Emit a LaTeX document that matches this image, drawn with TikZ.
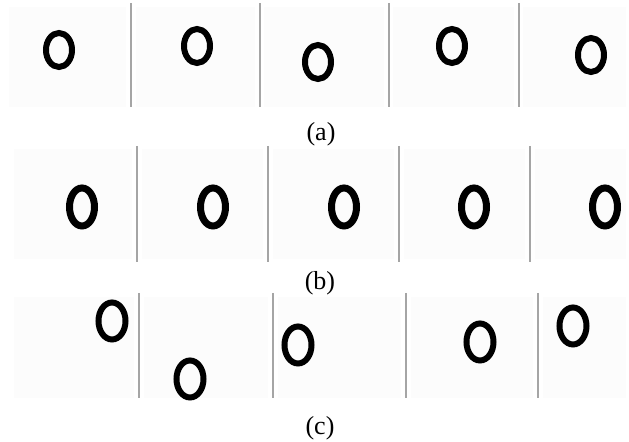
\documentclass[tikz,border=0pt]{standalone}
\usepackage{fontspec}
\setmainfont{Liberation Serif}
\usepackage{tikz}
\definecolor{framegray}{RGB}{165,165,165}
\definecolor{photobg}{RGB}{252,252,252}

\tikzset{
  ring/.style={draw=black, line width=3pt},
  thickring/.style={draw=black, line width=3.5pt},
  divider/.style={draw=framegray, line width=0.6pt},
  photo/.style={fill=photobg},
  caption/.style={anchor=base, font=\fontsize{13}{15}\selectfont}
}

\begin{document}
\begin{tikzpicture}[x=0.5pt, y=-0.5pt]
  \useasboundingbox (0,0) rectangle (629,442);

  % row (a)
  \foreach \xa/\xb in {9/126, 136/255, 264/384, 393/514, 523/626}
    \fill[photo] (\xa,7) rectangle (\xb,107);
  \foreach \x in {131,260,389,519}
    \draw[divider] (\x,3) -- (\x,107);
  \foreach \x/\y in {59/50, 197/46, 318/62, 452/46, 591/55}
    \draw[ring] (\x,\y) ellipse [x radius=6.5pt, y radius=8.5pt];
  \node[caption] (capA) at (321,141) {(a)};

  % row (b)
  \foreach \xa/\xb in {14/132, 142/263, 273/394, 404/525, 535/626}
    \fill[photo] (\xa,149) rectangle (\xb,259);
  \foreach \x in {137,268,399,530}
    \draw[divider] (\x,146) -- (\x,262);
  \foreach \x in {82,213,344,474,605}
    \draw[thickring] (\x,207) ellipse [x radius=6.25pt, y radius=9.5pt];
  \node[caption] (capB) at (320,290) {(b)};

  % row (c)
  \foreach \xa/\xb in {14/134, 144/268, 278/401, 411/533, 543/626}
    \fill[photo] (\xa,297) rectangle (\xb,398);
  \foreach \x in {139,273,406,538}
    \draw[divider] (\x,293) -- (\x,398);
  \foreach \x/\y in {112/321, 190/379, 298/345, 480/342, 573/326}
    \draw[ring] (\x,\y) ellipse [x radius=6.75pt, y radius=9.25pt];
  \node[caption] (capC) at (320,435) {(c)};
\end{tikzpicture}
\end{document}
